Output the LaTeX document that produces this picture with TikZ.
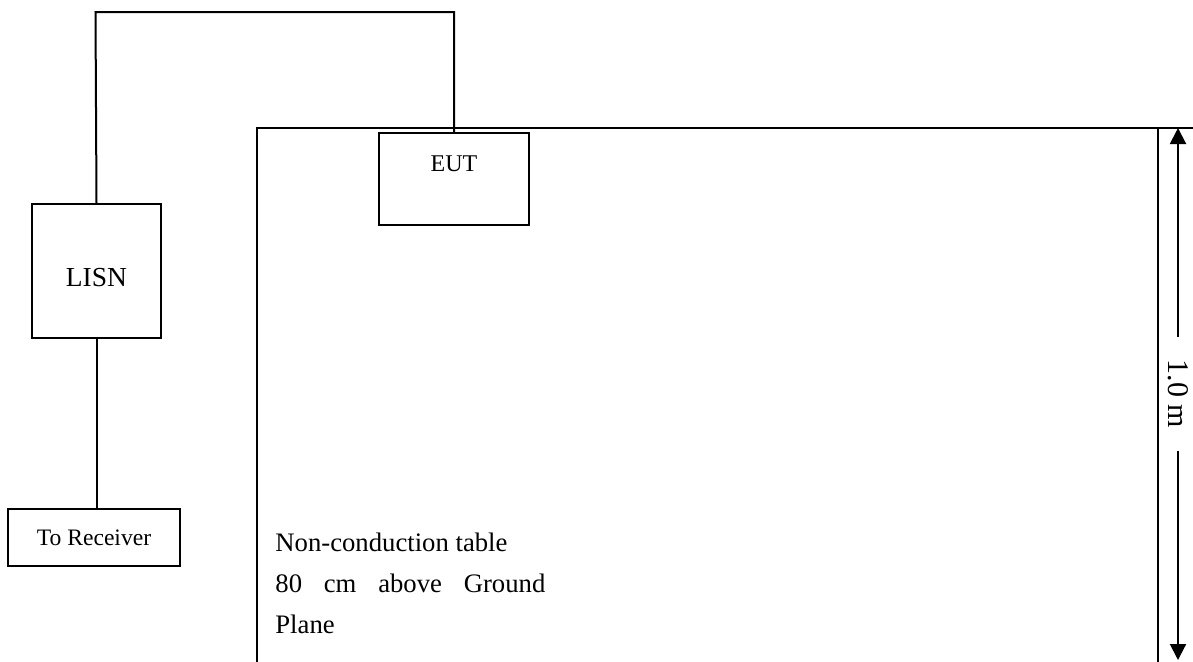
\documentclass[tikz,border=0pt]{standalone}
\usepackage{fontspec}
\setmainfont{Liberation Serif}
\usetikzlibrary{arrows.meta,positioning}

\tikzset{
  unit/.style={draw, line width=1pt, inner sep=0pt, anchor=north west},
  wire/.style={line width=1pt},
  tag/.style={inner sep=0pt},
  dimline/.style={line width=1pt, >={Triangle[length=8pt,width=8pt]}, <->}
}

\begin{document}
\begin{tikzpicture}[x=0.5pt,y=-0.5pt]
\useasboundingbox (0,0) rectangle (1193,661);
% table outline, open at the bottom
\draw[line width=1.4pt] (257,672) -- (257,128) -- (1158,128) -- (1158,672);
\draw[wire] (1158,128) -- (1193,128);
% units
\node[unit, minimum width=75pt, minimum height=46pt] (eut) at (378,132) {};
\node[tag, font=\fontsize{12}{14}\selectfont, below=11.5pt of eut.north] (euttext) {EUT};
\node[unit, minimum width=64.5pt, minimum height=67pt, text height=16pt,
      font=\fontsize{13.75}{16}\selectfont] (lisn) at (31,203) {LISN};
\node[unit, minimum width=86pt, minimum height=28.5pt,
      font=\fontsize{11.8}{14}\selectfont] (rcv) at (7,508) {To Receiver};
% cables
\coordinate (bend) at (95.5,12);
\draw[wire] (eut.north) |- (bend) -- (lisn.north);
\draw[wire] (lisn.south) -- (lisn.south |- rcv.north);
% table text
\node[tag, anchor=north west, align=left, font=\fontsize{13.35}{20.5}\selectfont] (tabletext) at (275,533)
  {Non-conduction table\\\makebox[135pt][s]{80 cm above Ground}\\Plane};
% height of table
\coordinate (dimtop) at (1178,128);
\coordinate (dimbot) at (1178,660);
\draw[dimline] (dimtop) -- (dimbot)
  node[midway, fill=white, rotate=-90, inner xsep=11.5pt, inner ysep=1pt,
       font=\fontsize{15}{18}\selectfont] (dimlabel) {1.0 m};
\end{tikzpicture}
\end{document}
